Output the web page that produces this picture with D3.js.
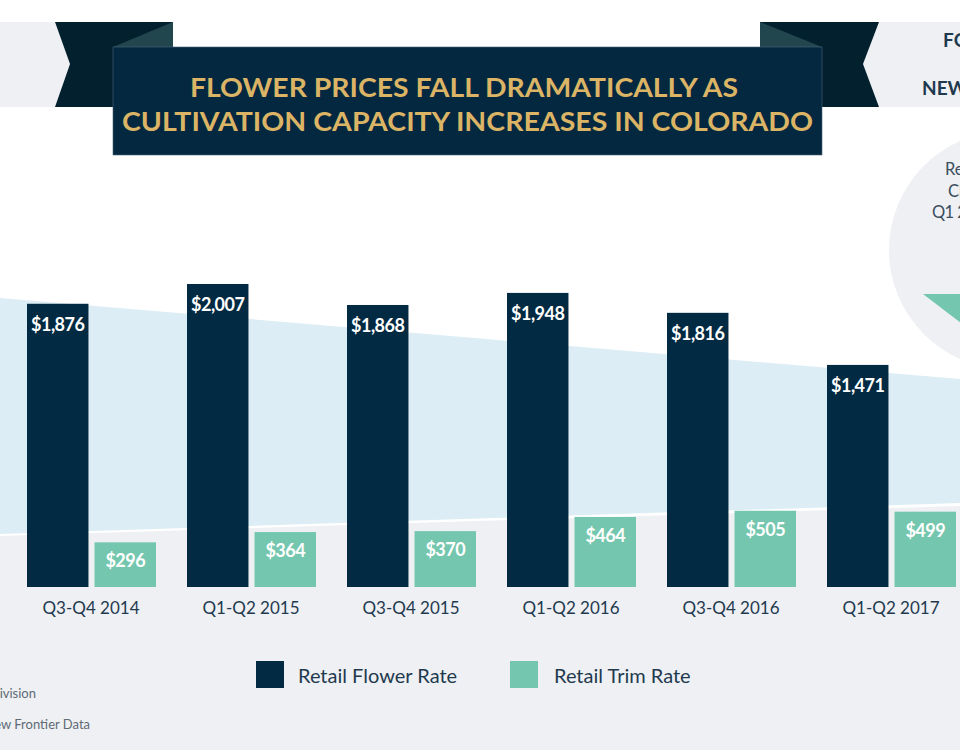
<!DOCTYPE html>
<html>
<head>
<meta charset="utf-8">
<script src="https://cdn.jsdelivr.net/npm/d3@7"></script>
<style>
  html, body { margin: 0; padding: 0; background: #ffffff; }
  svg { display: block; font-family: Lato, "Open Sans", sans-serif; }
</style>
</head>
<body>
<svg id="chart" width="960" height="750"></svg>
<script>
// ---- Data ----
const categories = ["Q3-Q4 2014", "Q1-Q2 2015", "Q3-Q4 2015", "Q1-Q2 2016", "Q3-Q4 2016", "Q1-Q2 2017"];
const flowerRate = [1876, 2007, 1868, 1948, 1816, 1471];
const trimRate = [296, 364, 370, 464, 505, 499];
const seriesNames = ["Retail Flower Rate", "Retail Trim Rate"];
const titleLines = ["FLOWER PRICES FALL DRAMATICALLY AS", "CULTIVATION CAPACITY INCREASES IN COLORADO"];
const sourceLines = ["Source: Colorado Marijuana Enforcement Division", "Analysis: New Frontier Data"];
const circleLines = ["Retail Flower", "Change", "Q1 2015 - Q2 2017"];
const sideLines = ["FOR MORE", "NEW FRONTIER"];

// ---- Colors ----
const NAVY = "#022a42", TEAL = "#74c7ae", BAND = "#dcedf5", GRAY = "#eef0f3";
const RIBBON = "#03202f", FOLD = "#22464e", GOLD = "#dbb466", TEXT = "#1f3a4f";

const svg = d3.select("#chart");

// ---- Background shapes ----
svg.append("rect").attr("width", 960).attr("height", 750).attr("fill", "#ffffff");
svg.append("polygon").attr("points", "0,536 960,506 960,750 0,750").attr("fill", GRAY);
svg.append("polygon").attr("points", "0,298 960,379 960,503 0,534").attr("fill", BAND);
svg.append("circle").attr("cx", 1008).attr("cy", 250).attr("r", 119).attr("fill", GRAY);
svg.append("polygon").attr("points", "923,294 1093,294 1008,359").attr("fill", TEAL);
const ct = svg.append("g").attr("fill", "#3a4e5e").attr("font-size", 16.5);
ct.append("text").attr("x", 945).attr("y", 175).text(circleLines[0]);
ct.append("text").attr("x", 948).attr("y", 197).text(circleLines[1]);
ct.append("text").attr("x", 932).attr("y", 218).attr("letter-spacing", -0.6).text(circleLines[2]);

// ---- Ribbon / title banner ----
svg.append("polygon").attr("points", "0,22 55,22 70,64 55,107 0,107").attr("fill", GRAY);
svg.append("polygon").attr("points", "55,22 173,22 173,107 55,107 70,64").attr("fill", RIBBON);
svg.append("polygon").attr("points", "960,22 879,22 863,64 879,107 960,107").attr("fill", GRAY);
svg.append("polygon").attr("points", "879,22 760,22 760,107 879,107 863,64").attr("fill", RIBBON);
svg.append("polygon").attr("points", "113,47 173,22 173,47").attr("fill", FOLD);
svg.append("polygon").attr("points", "822,47 760,22 760,47").attr("fill", FOLD);
svg.append("rect").attr("x", 113).attr("y", 47).attr("width", 709).attr("height", 108)
  .attr("fill", "#032840").attr("stroke", "#4a6478").attr("stroke-width", 0.6);
svg.append("text").attr("x", 190).attr("y", 97).attr("fill", GOLD).attr("font-size", 27)
  .attr("font-weight", 700).attr("textLength", 548).attr("lengthAdjust", "spacingAndGlyphs").text(titleLines[0]);
svg.append("text").attr("x", 122).attr("y", 131).attr("fill", GOLD).attr("font-size", 27)
  .attr("font-weight", 700).attr("textLength", 691).attr("lengthAdjust", "spacingAndGlyphs").text(titleLines[1]);
svg.append("text").attr("x", 943).attr("y", 47).attr("fill", TEXT).attr("font-size", 19).attr("font-weight", 700).text(sideLines[0]);
svg.append("text").attr("x", 922).attr("y", 95).attr("fill", TEXT).attr("font-size", 19).attr("font-weight", 700).text(sideLines[1]);

// ---- Scales ----
const x0 = d3.scaleBand().domain(categories).range([11, 971]).paddingInner(0).paddingOuter(0);
const keys = ["flower", "trim"];
const x1 = d3.scaleBand().domain(keys).range([16, 145]).paddingInner(0.09);
const y = d3.scaleLinear().domain([0, 2007]).range([587, 284]);

const rows = categories.map((c, i) => ({ cat: c, flower: flowerRate[i], trim: trimRate[i] }));
const color = { flower: NAVY, trim: TEAL };
const fmt = d3.format("$,");

const groups = svg.append("g").selectAll("g").data(rows).join("g")
  .attr("transform", d => `translate(${x0(d.cat)},0)`);

groups.selectAll("rect").data(d => keys.map(k => ({ key: k, value: d[k] }))).join("rect")
  .attr("x", d => x1(d.key)).attr("width", x1.bandwidth())
  .attr("y", d => y(d.value)).attr("height", d => y(0) - y(d.value))
  .attr("fill", d => color[d.key]);

groups.selectAll("text.val").data(d => keys.map(k => ({ key: k, value: d[k] }))).join("text")
  .attr("class", "val")
  .attr("x", d => x1(d.key) + x1.bandwidth() / 2)
  .attr("y", d => y(d.value) + (d.key === "flower" ? 27 : 25))
  .attr("text-anchor", "middle").attr("fill", "#ffffff")
  .attr("font-size", 18).attr("font-weight", 700).attr("letter-spacing", -0.5)
  .text(d => fmt(d.value));

// ---- X axis ----
const xAxis = svg.append("g").attr("transform", "translate(0,587)")
  .call(d3.axisBottom(x0).tickSize(0).tickPadding(15));
xAxis.select(".domain").remove();
xAxis.selectAll("text").attr("fill", TEXT).attr("font-size", 17)
  .attr("font-family", "Lato, sans-serif");

// ---- Legend ----
const legendX = [256, 510];
const lg = svg.append("g").selectAll("g").data(seriesNames).join("g")
  .attr("transform", (d, i) => `translate(${legendX[i]},661)`);
lg.append("rect").attr("width", 28).attr("height", 27).attr("fill", (d, i) => color[keys[i]]);
lg.append("text").attr("x", (d, i) => i === 0 ? 42 : 44).attr("y", 22).attr("fill", TEXT)
  .attr("font-size", 20).text(d => d);

// ---- Source notes (clipped at left, as in the reference) ----
svg.append("text").attr("x", 36).attr("y", 698).attr("text-anchor", "end").attr("fill", "#5f6b76")
  .attr("font-size", 13).text(sourceLines[0]);
svg.append("text").attr("x", 90).attr("y", 729).attr("text-anchor", "end").attr("fill", "#5f6b76")
  .attr("font-size", 13).text(sourceLines[1]);
</script>
</body>
</html>
